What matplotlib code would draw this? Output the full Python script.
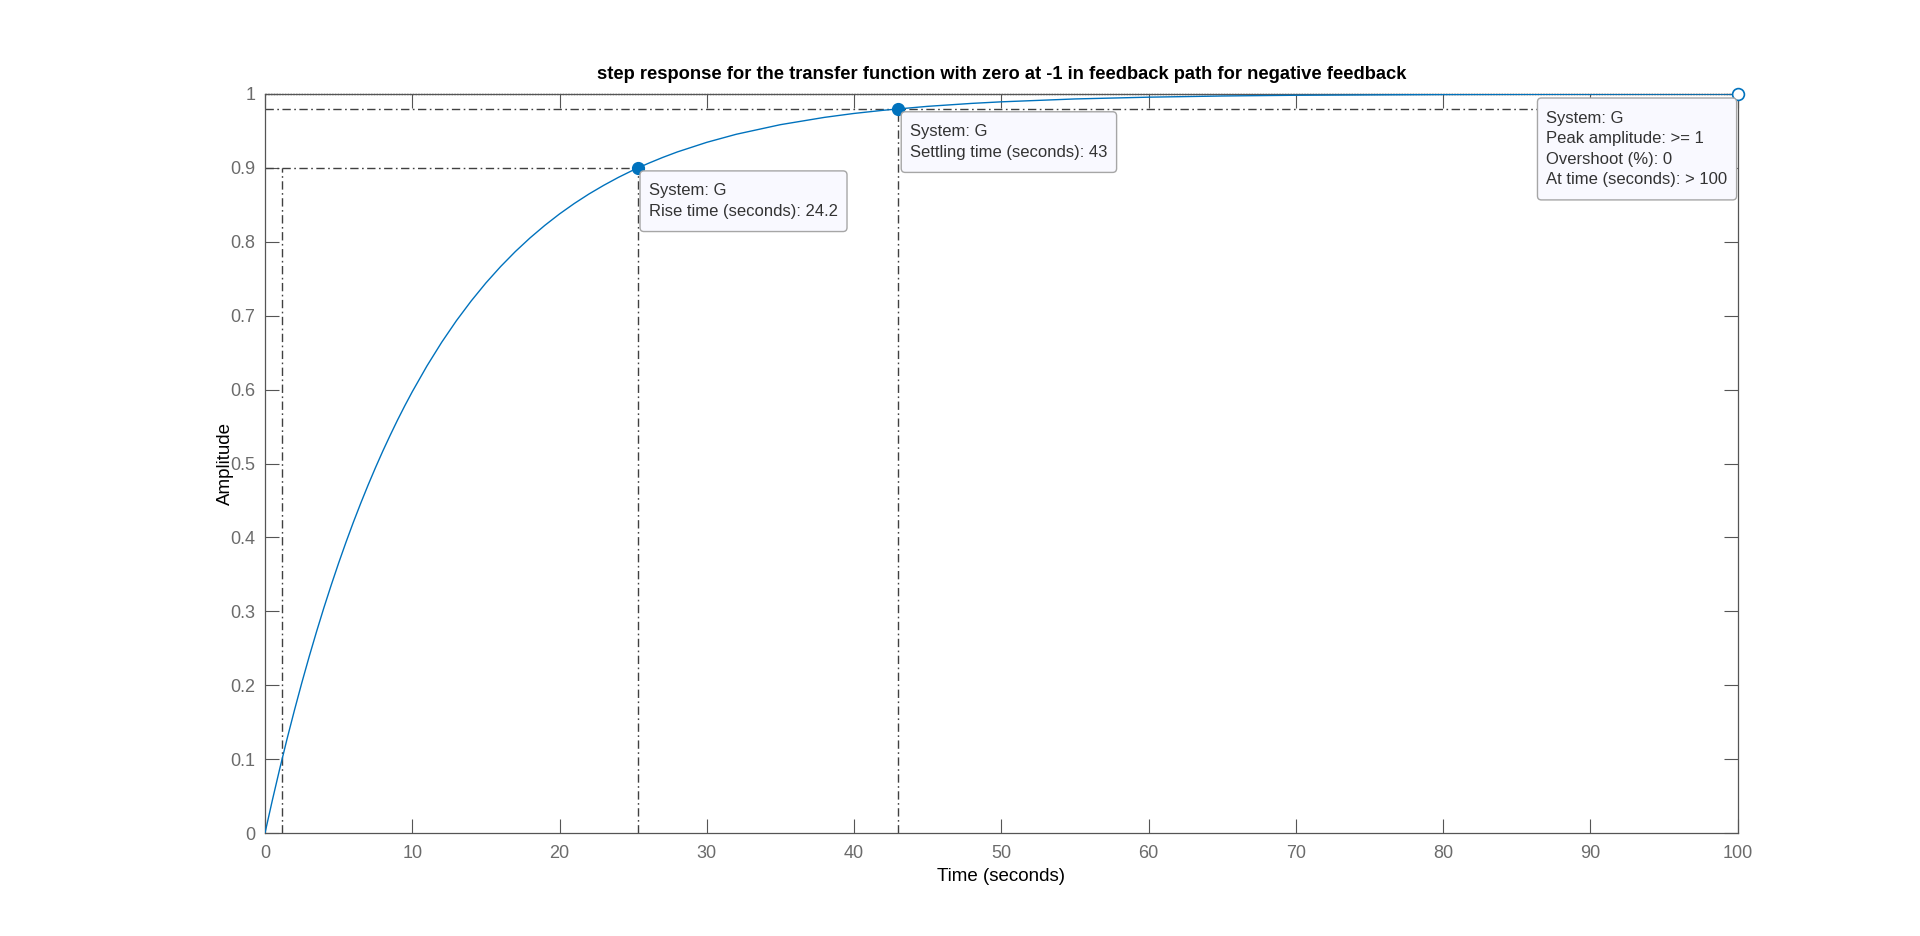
import matplotlib
matplotlib.use("Agg")
import matplotlib.pyplot as plt
from matplotlib.patches import FancyBboxPatch
from matplotlib.transforms import IdentityTransform

plt.rcParams['font.family'] = ['Liberation Sans', 'DejaVu Sans']

# Step response values
time_s = [0, 0.5, 1, 1.5, 2, 2.5, 3, 3.5, 4, 4.5, 5, 5.5, 6, 6.5, 7, 7.5, 8, 8.5, 9, 9.5,
          10, 11, 12, 13, 14, 15, 16, 17, 18, 19, 20, 21, 22, 23, 24, 25, 26, 27, 28,
          30, 32, 35, 38, 40, 42, 45, 48, 50, 55, 60, 65, 70, 80, 90, 100]
amplitude = [0, 0.0444, 0.0869, 0.1275, 0.1662, 0.2033, 0.2387, 0.2725, 0.3049, 0.3357,
             0.3653, 0.3935, 0.4205, 0.4462, 0.4708, 0.4943, 0.5168, 0.5382, 0.5588, 0.5784,
             0.5971, 0.6321, 0.6641, 0.6933, 0.7199, 0.7443, 0.7665, 0.7868, 0.8053,
             0.8222, 0.8377, 0.8518, 0.8647, 0.8764, 0.8872, 0.8970, 0.9059, 0.9141, 0.9216,
             0.9346, 0.9455, 0.9585, 0.9684, 0.9737, 0.9780, 0.9833, 0.9873, 0.9894,
             0.9933, 0.9957, 0.9973, 0.9983, 0.9993, 0.9997, 0.9999]

rise_start_t, rise_end_t, rise_lo, rise_hi = 1.16, 25.33, 0.1, 0.9
rise_time = 24.2
settle_t, settle_y = 43.0, 0.98
peak_t, peak_y = 100.0, 1.0

x_ticks = [0, 10, 20, 30, 40, 50, 60, 70, 80, 90, 100]
y_ticks = [0, 0.1, 0.2, 0.3, 0.4, 0.5, 0.6, 0.7, 0.8, 0.9, 1]
y_tick_labels = ['0', '0.1', '0.2', '0.3', '0.4', '0.5', '0.6', '0.7', '0.8', '0.9', '1']

blue = '#0072BD'
refc = '#404040'
axc = '#555555'
tickc = '#6b6b6b'

fig = plt.figure(figsize=(19.2, 9.36), dpi=100)
ax = fig.add_axes([265/1920, 1-833/936, (1737.6-265)/1920, (833-94)/936])
ax.set_xlim(0, 100)
ax.set_ylim(0, 1)

ax.plot(time_s, amplitude, color=blue, lw=1.0, zorder=3)

dash = (6, 2.5, 1.2, 2.5)
kw = dict(color=refc, lw=1.0, dashes=dash, zorder=2)
# rise time references
ax.plot([0, rise_end_t], [rise_hi, rise_hi], **kw)
ax.plot([rise_start_t, rise_start_t], [0, rise_hi], **kw)
ax.plot([rise_end_t, rise_end_t], [0, rise_hi], **kw)
# settling references
ax.plot([0, 100], [settle_y, settle_y], **kw)
ax.plot([settle_t, settle_t], [0, settle_y], **kw)
# peak reference
ax.plot([0, 100], [peak_y, peak_y], color=refc, lw=1.0, ls=(0, (1, 1)), zorder=2, clip_on=False)

ax.plot([rise_end_t], [rise_hi], 'o', color=blue, ms=8.5, zorder=5)
ax.plot([settle_t], [settle_y], 'o', color=blue, ms=8.5, zorder=5)
ax.plot([peak_t], [peak_y], 'o', mfc='white', mec=blue, mew=1.2, ms=8.5, zorder=6, clip_on=False)

padx, pady = 9, 12.5
tkw = dict(fontsize=12.0, color='#333333', linespacing=1.47, zorder=8,
           textcoords='offset pixels', xycoords='data', multialignment='left')
tips = []
tips.append(ax.annotate('System: G\nRise time (seconds): %s' % rise_time, (rise_end_t, rise_hi),
                        xytext=(2 + padx, -(3 + pady)), ha='left', va='top', **tkw))
tips.append(ax.annotate('System: G\nSettling time (seconds): %g' % settle_t, (settle_t, settle_y),
                        xytext=(3 + padx, -(3 + pady)), ha='left', va='top', **tkw))
tips.append(ax.annotate('System: G\nPeak amplitude: >= 1\nOvershoot (%%): 0\nAt time (seconds): > %g' % peak_t,
                        (peak_t, peak_y), xytext=(-(1 + padx), -(4 + pady)), ha='right', va='top', **tkw))

ax.set_xticks(x_ticks)
ax.set_yticks(y_ticks)
ax.set_yticklabels(y_tick_labels)
ax.tick_params(direction='in', length=10, width=0.8, color=axc, labelcolor=tickc,
               labelsize=13, top=True, right=True)
ax.tick_params(axis='x', pad=9)
ax.tick_params(axis='y', pad=7)
for s in ax.spines.values():
    s.set_color(axc)
    s.set_linewidth(0.9)

ax.set_xlabel('Time (seconds)', fontsize=13.5, color='black', labelpad=4)
ax.set_ylabel('Amplitude', fontsize=13.5, color='black', labelpad=-2.5)
ax.set_title('step response for the transfer function with zero at -1 in feedback path for negative feedback',
             fontsize=13.2, fontweight='bold', pad=11)

fig.canvas.draw()
renderer = fig.canvas.get_renderer()
for t in tips:
    bb = t.get_window_extent(renderer)
    p = FancyBboxPatch((bb.x0 - padx, bb.y0 - pady), bb.width + 2 * padx, bb.height + 2 * pady,
                       boxstyle='round,pad=0,rounding_size=4', transform=IdentityTransform(),
                       fc='#f9f9ff', ec='#a6a6a6', lw=1.0, zorder=7, clip_on=False)
    ax.add_artist(p)

fig.savefig('out.png', dpi=100, facecolor='white')
